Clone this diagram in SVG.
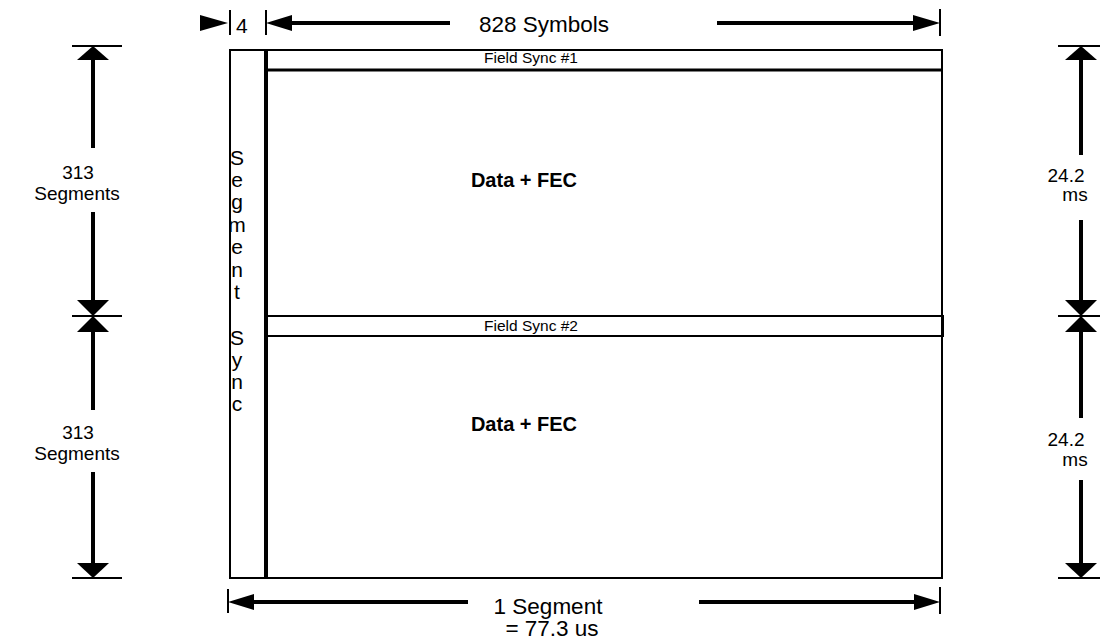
<svg xmlns="http://www.w3.org/2000/svg" width="1100" height="639" viewBox="0 0 1100 639">
<style>
text{font-family:"Liberation Sans",Arial,sans-serif;fill:#000}
.lbl{font-size:21px}
.seg{font-size:19px}
.big{font-size:22.5px}
.fs{font-size:15.5px}
.data{font-size:20px;font-weight:bold}
.vt{font-size:21px}
.thin{fill:none;stroke:#000;stroke-width:2}
.dim{stroke:#000;stroke-width:4;fill:none}
.tick{stroke:#000;stroke-width:2}
.head{fill:#000}
</style>
<rect x="0" y="0" width="1100" height="639" fill="#fff"/>
<g id="frame">
<rect class="thin" x="230" y="50" width="712" height="528"/>
</g>
<g id="segment-sync">
<line x1="266" y1="50" x2="266" y2="579" stroke="#000" stroke-width="4"/>
<text class="vt" text-anchor="middle">
<tspan x="237" y="165">S</tspan><tspan x="237" y="187">e</tspan><tspan x="237" y="209">g</tspan><tspan x="237" y="232">m</tspan><tspan x="237" y="254">e</tspan><tspan x="237" y="277">n</tspan><tspan x="237" y="299">t</tspan><tspan x="237" y="345">S</tspan><tspan x="237" y="367">y</tspan><tspan x="237" y="389">n</tspan><tspan x="237" y="411">c</tspan>
</text>
</g>
<g id="field-sync-1">
<line x1="266" y1="70" x2="942" y2="70" stroke="#000" stroke-width="3"/>
<text class="fs" x="531" y="63" text-anchor="middle">Field Sync #1</text>
</g>
<g id="data-1">
<text class="data" x="524" y="187" text-anchor="middle">Data + FEC</text>
</g>
<g id="field-sync-2">
<rect class="thin" x="266" y="316" width="677" height="20"/>
<text class="fs" x="531" y="331" text-anchor="middle">Field Sync #2</text>
</g>
<g id="data-2">
<text class="data" x="524" y="431" text-anchor="middle">Data + FEC</text>
</g>
<g id="connectors">
<!-- top dimension -->
<polygon class="head" points="200,15 228,23 200,31"/>
<line class="tick" x1="230" y1="10" x2="230" y2="35"/>
<text class="lbl" x="236" y="33">4</text>
<line class="tick" x1="266" y1="10" x2="266" y2="35"/>
<polygon class="head" points="266,23 292,15 292,31"/>
<line class="dim" x1="290" y1="23" x2="450" y2="23"/>
<text class="big" x="544" y="32" text-anchor="middle">828 Symbols</text>
<line class="dim" x1="717" y1="23" x2="915" y2="23"/>
<polygon class="head" points="913,15 940,23 913,31"/>
<line class="tick" x1="940" y1="9" x2="940" y2="36"/>
<!-- bottom dimension -->
<line class="tick" x1="228" y1="589" x2="228" y2="613"/>
<polygon class="head" points="228,602 254,594 254,610"/>
<line class="dim" x1="252" y1="602" x2="468" y2="602"/>
<text class="big" x="548" y="614" text-anchor="middle">1 Segment</text>
<text class="big" x="552" y="636" text-anchor="middle">= 77.3 us</text>
<line class="dim" x1="699" y1="602" x2="916" y2="602"/>
<polygon class="head" points="914,594 940,602 914,610"/>
<line class="tick" x1="940" y1="587" x2="940" y2="614"/>
<!-- left vertical -->
<line class="tick" x1="72" y1="46" x2="122" y2="46"/>
<polygon class="head" points="93,46 77,60 109,60"/>
<line class="dim" x1="93" y1="58" x2="93" y2="148"/>
<text class="seg" x="78" y="179" text-anchor="middle">313</text>
<text class="seg" x="77" y="200" text-anchor="middle">Segments</text>
<line class="dim" x1="93" y1="212" x2="93" y2="302"/>
<polygon class="head" points="77,300 109,300 93,316"/>
<line class="tick" x1="72" y1="316" x2="122" y2="316"/>
<polygon class="head" points="93,316 77,332 109,332"/>
<line class="dim" x1="93" y1="330" x2="93" y2="410"/>
<text class="seg" x="78" y="439" text-anchor="middle">313</text>
<text class="seg" x="77" y="460" text-anchor="middle">Segments</text>
<line class="dim" x1="93" y1="472" x2="93" y2="565"/>
<polygon class="head" points="77,563 109,563 93,578"/>
<line class="tick" x1="72" y1="578" x2="122" y2="578"/>
<!-- right vertical -->
<line class="tick" x1="1058" y1="46" x2="1100" y2="46"/>
<polygon class="head" points="1081,46 1065,60 1097,60"/>
<line class="dim" x1="1081" y1="58" x2="1081" y2="155"/>
<text class="seg" x="1066" y="182" text-anchor="middle">24.2</text>
<text class="seg" x="1075" y="201" text-anchor="middle">ms</text>
<line class="dim" x1="1081" y1="220" x2="1081" y2="302"/>
<polygon class="head" points="1065,300 1097,300 1081,316"/>
<line class="tick" x1="1058" y1="316" x2="1100" y2="316"/>
<polygon class="head" points="1081,316 1065,332 1097,332"/>
<line class="dim" x1="1081" y1="330" x2="1081" y2="418"/>
<text class="seg" x="1066" y="446" text-anchor="middle">24.2</text>
<text class="seg" x="1075" y="466" text-anchor="middle">ms</text>
<line class="dim" x1="1081" y1="480" x2="1081" y2="565"/>
<polygon class="head" points="1065,563 1097,563 1081,578"/>
<line class="tick" x1="1058" y1="578" x2="1100" y2="578"/>
</g>
</svg>
